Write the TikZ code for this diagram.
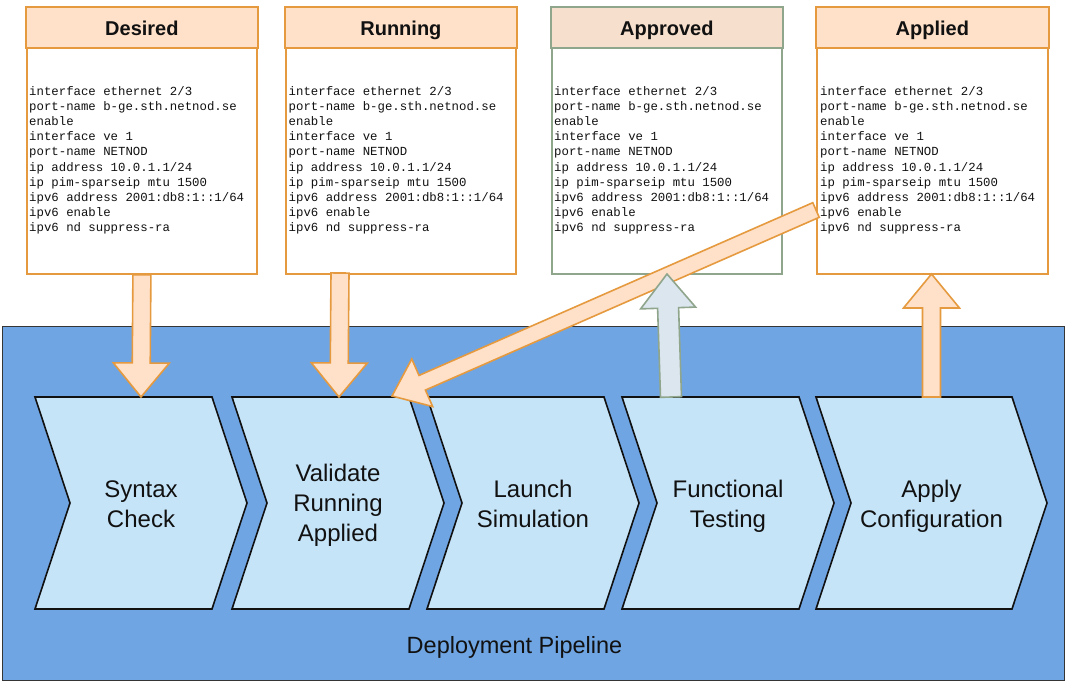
\documentclass[tikz,border=0pt]{standalone}
\usepackage{fontspec}
\setmainfont{Liberation Sans}
\newfontfamily\codefont{Liberation Mono}
\usetikzlibrary{calc}
\definecolor{bgblue}{HTML}{6FA5E3}
\definecolor{chevfill}{HTML}{C6E4F8}
\definecolor{peach}{HTML}{FFE0C8}
\definecolor{orangeb}{HTML}{E59A3F}
\definecolor{greenb}{HTML}{8FA58C}
\definecolor{apphdr}{HTML}{F6DFCC}
\definecolor{greyarrow}{HTML}{DCE6EE}
\definecolor{ink}{HTML}{111111}
\newcommand\blkarrow[6]{%
  \coordinate (ba-h) at ($(#3)!#6!(#2)$);
  \draw[#1] ($(#2)!#4!90:(#3)$) -- ($(ba-h)!#4!90:(#3)$) -- ($(ba-h)!#5!90:(#3)$) -- (#3)
    -- ($(ba-h)!#5!-90:(#3)$) -- ($(ba-h)!#4!-90:(#3)$) -- ($(#2)!#4!-90:(#3)$) -- cycle;}
\newcommand\chev[5]{% x, width, name, text, label y
  \draw[chevron] (#1,397) -- ({#1+#2},397) -- ({#1+#2+35},503) -- ({#1+#2},609) -- (#1,609) -- ({#1+35},503) -- cycle;
  \node[steplabel] (#3) at ({#1+(#2+35)/2},#5) {#4};}
\newcommand\csp{\hspace*{0.6em}}
\tikzset{
  x=1pt, y=-1pt,
  chevron/.style={fill=chevfill, draw=ink, line width=1.6pt, line join=miter},
  steplabel/.style={font=\fontsize{24}{30}\selectfont, align=center, text=ink, inner sep=0pt},
  cfgbox/.style={draw=orangeb, fill=white, line width=1.8pt, minimum width=230pt, minimum height=266pt, anchor=north west, inner sep=0pt},
  hdr/.style={fill=peach, draw=orangeb, line width=1.8pt},
  title/.style={font=\fontsize{20}{24}\selectfont\bfseries, text=ink, inner sep=0pt, anchor=base},
  code/.style={font=\codefont\fontsize{12.35}{15.1}\selectfont, text width=225pt, align=left, anchor=base west, inner sep=0pt, text=ink},
  peacharrow/.style={fill=peach, draw=orangeb, line width=1.6pt, line join=miter},
  greyblkarrow/.style={fill=greyarrow, draw=greenb, line width=1.6pt, line join=miter},
}
\newcommand\cfgtext{interface\csp ethernet\csp 2/3\\port-name\csp b-ge.sth.netnod.se\\enable\\interface\csp ve\csp 1\\port-name\csp NETNOD\\ip\csp address\csp 10.0.1.1/24\\ip\csp pim-sparseip\csp mtu\csp 1500\\ipv6\csp address\csp 2001:db8:1::1/64\\ipv6\csp enable\\ipv6\csp nd\csp suppress-ra}
\begin{document}
\begin{tikzpicture}
\useasboundingbox (0,0) rectangle (1066,688);
% pipeline background
\node[draw=ink!85, fill=bgblue, line width=1.4pt, minimum width=1062pt, minimum height=354pt, anchor=north west, inner sep=0pt] (pipeline) at (2,326) {};
\node[font=\fontsize{23.5}{28}\selectfont, text=ink, inner sep=0pt, anchor=base] (pipelabel) at (514.5,653) {Deployment Pipeline};
% chevrons
\chev{35}{177}{syntax}{Syntax\\Check}{504}
\chev{232}{177}{validate}{Validate\\Running\\Applied}{505}
\chev{427}{177}{launch}{Launch\\Simulation}{504}
\chev{622}{177}{functional}{Functional\\Testing}{506}
\chev{816}{196}{apply}{Apply\\Configuration}{506}
% config boxes
\node[cfgbox] (desired) at (26,7) {};
\draw[hdr] (desired.north west) rectangle ($(desired.north east)+(0,41)$);
\node[title] (desiredt) at ($(desired.north)+(0,28)$) {Desired};
\node[code] (desiredc) at (29,95.5) {\cfgtext};

\node[cfgbox] (running) at (285,7) {};
\draw[hdr] (running.north west) rectangle ($(running.north east)+(0,41)$);
\node[title] (runningt) at ($(running.north)+(0,28)$) {Running};
\node[code] (runningc) at (288.5,95.5) {\cfgtext};

\node[cfgbox, draw=greenb] (approved) at (551,7) {};
\draw[hdr, fill=apphdr, draw=greenb] (approved.north west) rectangle ($(approved.north east)+(0,41)$);
\node[title] (approvedt) at ($(approved.north)+(0,28)$) {Approved};
\node[code] (approvedc) at (554,95.5) {\cfgtext};

\node[cfgbox, minimum width=231pt] (applied) at (816,7) {};
\draw[hdr] (applied.north west) rectangle ($(applied.north east)+(0,41)$);
\node[title] (appliedt) at ($(applied.north)+(0,28)$) {Applied};
\node[code] (appliedc) at (820,95.5) {\cfgtext};
% arrow end points
\coordinate (syntax-top) at (141,397);
\coordinate (running-out) at (340,273);
\coordinate (validate-top) at (339,397);
\coordinate (applied-out) at (816,210);
\coordinate (validate-corner) at (392,396);
\coordinate (functional-top) at (671,397);
\coordinate (approved-in) at (667,274);
\coordinate (apply-top) at (931.5,397);
\coordinate (applied-in) at (931.5,274);
% block arrows
\blkarrow{peacharrow}{desired.south}{syntax-top}{9pt}{28pt}{34pt}
\blkarrow{peacharrow}{running-out}{validate-top}{9pt}{28pt}{34pt}
\blkarrow{peacharrow}{applied-out}{validate-corner}{8pt}{26pt}{33pt}
\blkarrow{greyblkarrow}{functional-top}{approved-in}{10.5pt}{27.5pt}{34pt}
\blkarrow{peacharrow}{apply-top}{applied-in}{9pt}{28pt}{34pt}
\end{tikzpicture}
\end{document}
